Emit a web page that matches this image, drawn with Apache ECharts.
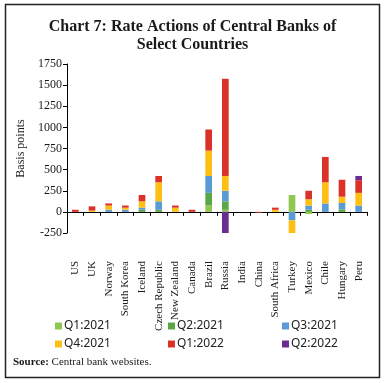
<!DOCTYPE html>
<html>
<head>
<meta charset="utf-8">
<script src="https://cdn.jsdelivr.net/npm/echarts@6/dist/echarts.min.js"></script>
<style>
html,body{margin:0;padding:0;background:#fff;}
#c{width:385px;height:383px;}
</style>
</head>
<body>
<div id="c"></div>
<script>
const categories = ['US','UK','Norway','South Korea','Iceland','Czech Republic','New Zealand','Canada','Brazil','Russia','India','China','South Africa','Turkey','Mexico','Chile','Hungary','Peru'];
const q1_2021 = [0,0,0,0,0,0,0,0,75,25,0,0,0,200,-25,0,0,0];
const q2_2021 = [0,0,0,0,25,25,0,0,150,100,0,0,0,0,25,0,30,0];
const q3_2021 = [0,0,25,25,25,100,0,0,200,125,0,0,0,-100,50,100,75,75];
const q4_2021 = [0,15,50,25,75,225,50,0,300,175,0,0,25,-150,75,250,75,150];
const q1_2022 = [25,50,25,25,75,75,25,25,250,1150,0,-10,25,0,100,300,200,150];
const q2_2022 = [0,0,0,0,0,0,0,0,0,-250,0,0,0,0,0,0,0,50];
const seriesNames = ['Q1:2021','Q2:2021','Q3:2021','Q4:2021','Q1:2022','Q2:2022'];
const yTicks = {min:-250, max:1750, interval:250};

const colors = ['#8fc750','#5aa845','#5b9bd5','#fdbf14','#dc3128','#6a2c91'];
const seriesData = [q1_2021,q2_2021,q3_2021,q4_2021,q1_2022,q2_2022];
const serif = '"Liberation Serif", "DejaVu Serif", serif';
const sans = '"Noto Sans", "Liberation Sans", sans-serif';

const legendPos = [
  {left:55, top:320},{left:168, top:320},{left:282, top:320},
  {left:55, top:338},{left:168, top:338},{left:282, top:338}
];

const chart = echarts.init(document.getElementById('c'), null, {renderer:'canvas'});
chart.setOption({
  animation:false,
  color: colors,
  title:{
    text:'Chart 7: Rate Actions of Central Banks of\nSelect Countries',
    left:'center', top:13,
    textStyle:{fontFamily:serif, fontWeight:'bold', fontSize:16, lineHeight:18, color:'#1a1a1a'}
  },
  legend: seriesNames.map((n,i)=>({
    data:[n], left:legendPos[i].left, top:legendPos[i].top, padding:0,
    icon:'rect', itemWidth:7, itemHeight:7, itemGap:0,
    textStyle:{fontFamily:sans, fontSize:12, color:'#222', padding:[0,0,0,-3]}
  })),
  grid:{left:67, right:18, top:64, height:169},
  xAxis:{
    type:'category', data:categories,
    axisLine:{onZero:true, lineStyle:{color:'#000', width:1}},
    axisTick:{show:true, length:4, lineStyle:{color:'#000'}},
    axisLabel:{rotate:90, margin:28, fontFamily:serif, fontSize:11, color:'#1a1a1a', interval:0}
  },
  yAxis:{
    type:'value', min:yTicks.min, max:yTicks.max, interval:yTicks.interval,
    name:'Basis points', nameLocation:'middle', nameGap:37,
    nameTextStyle:{fontFamily:serif, fontSize:12, color:'#1a1a1a'},
    axisLine:{show:true, lineStyle:{color:'#000', width:1}},
    axisTick:{show:true, length:4, lineStyle:{color:'#000'}},
    axisLabel:{fontFamily:serif, fontSize:12, color:'#1a1a1a', margin:5, formatter:v=>String(v)},
    splitLine:{show:false}
  },
  series: seriesNames.map((n,i)=>({
    name:n, type:'bar', stack:'all', barWidth:'40%',
    data: seriesData[i].map(v => v === 0 ? '-' : v),
    itemStyle:{color:colors[i]}
  })),
  graphic:[
    {type:'rect', shape:{x:5.5, y:4.5, width:374, height:373}, style:{fill:'none', stroke:'#222', lineWidth:1.5}, silent:true},
    {type:'text', left:13, top:357, style:{
      text:'{b|Source:} Central bank websites.',
      rich:{b:{fontFamily:serif, fontWeight:'bold', fontSize:11, fill:'#1a1a1a'}},
      font:'11px "Liberation Serif", serif', fill:'#1a1a1a'
    }}
  ]
});
</script>
</body>
</html>
